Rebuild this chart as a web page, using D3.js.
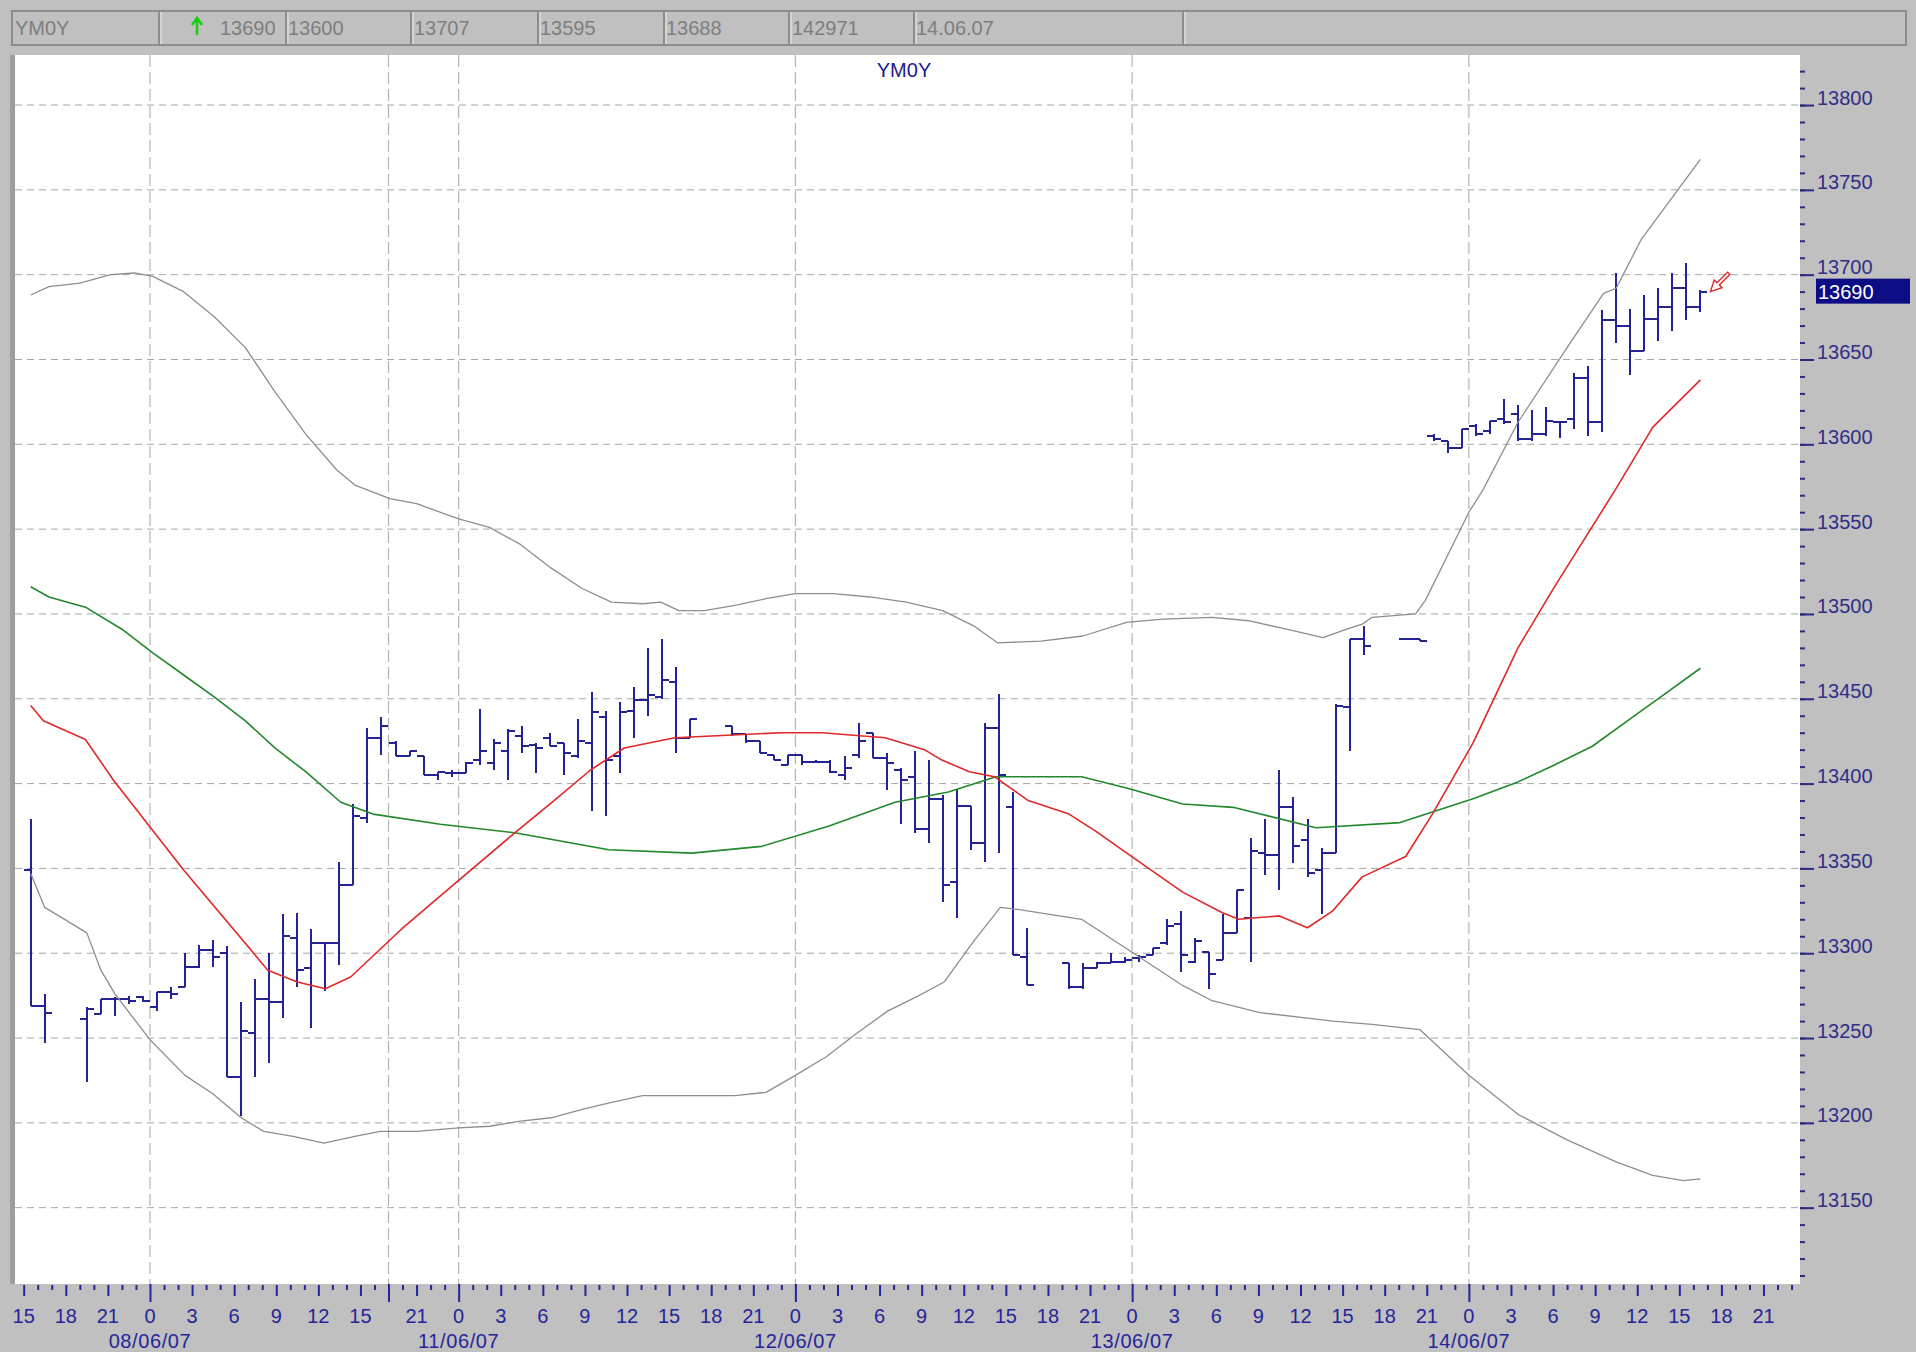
<!DOCTYPE html>
<html><head><meta charset="utf-8">
<script src="https://cdn.jsdelivr.net/npm/d3@7"></script>
<style>
html,body{margin:0;padding:0;background:#c0c0c0;}
svg{display:block;font-family:"Liberation Sans",Arial,sans-serif;}
</style></head><body>
<svg id="chart" width="1916" height="1352"></svg>
<script>
// ---------- DATA ----------
// slot = trading-hour index (0 = 07/06 15:00); bars sit in the middle of their hour slot
const barSlot = [0.5,1.5,
 4.5,5.5,6.5,7.5,8.5,9.5,10.5,11.5,12.5,13.5,14.5,15.5,16.5,17.5,18.5,19.5,20.5,21.5,22.5,23.5,24.5,25.5,
 26.5,27.5,28.5,29.5,30.5,31.5,32.5,33.5,34.5,35.5,36.5,37.5,38.5,39.5,40.5,41.5,42.5,43.5,44.5,45.5,46.5,47.5,
 50.5,51.5,52.5,53.5,54.5,55.5,56.5,57.5,58.5,59.5,60.5,61.5,62.5,63.5,64.5,65.5,66.5,67.5,68.5,69.5,70.5,71.5,
 74.5,75.5,76.5,77.5,78.5,79.5,80.5,81.5,82.5,83.5,84.5,85.5,86.5,87.5,88.5,89.5,90.5,91.5,92.5,93.5,94.5,95.5,
 98.5,99.5,100.5,101.5,102.5,103.5,104.5,105.5,106.5,107.5,108.5,109.5,110.5,111.5,112.5,113.5,114.5,115.5,116.5,117.5,118.5,119.5];
const barOpen = [13349,13269,
 13261,13264,13273,13273,13274,13268,13277,13280,13292,13302,13300,13227,13253,13273,13271,13309,13291,13306,13306,13340,13380,13427,
 13424,13416,13416,13405,13406,13406,13414,13412,13419,13428,13423,13427,13424,13416,13424,13439,13416,13443,13449,13451,13460,13427,
 13434,13429,13425,13417,13411,13417,13413,13413,13405,13417,13430,13415,13408,13404,13373,13391,13342,13387,13365,13433,13386,13298,
 13294,13280,13291,13294,13295,13297,13299,13306,13317,13295,13301,13296,13312,13321,13359,13358,13386,13367,13349,13359,13445,13485,
 13485,13485,13605,13602,13598,13611,13608,13615,13618,13603,13606,13613,13615,13639,13613,13673,13670,13655,13674,13681,13692,13681];
const barHigh = [13379,13276,
 13268,13273,13274,13275,13275,13277,13280,13300,13305,13308,13304,13271,13285,13300,13323,13324,13314,13306,13354,13388,13433,13439,
 13425,13419,13416,13407,13408,13413,13444,13426,13432,13434,13424,13430,13424,13438,13454,13443,13448,13457,13480,13485,13469,13438,
 13434,13429,13425,13417,13417,13417,13414,13414,13416,13436,13430,13418,13409,13419,13414,13393,13397,13387,13436,13453,13395,13315,
 13294,13294,13295,13300,13298,13299,13303,13320,13325,13309,13301,13323,13337,13368,13379,13408,13392,13379,13362,13447,13485,13493,
 13485,13485,13606,13602,13609,13612,13614,13627,13623,13620,13622,13614,13642,13646,13679,13701,13680,13688,13692,13701,13707,13691];
const barLow = [13269,13247,
 13224,13264,13263,13270,13271,13266,13273,13280,13291,13292,13227,13204,13227,13235,13262,13280,13256,13278,13293,13340,13377,13417,
 13416,13416,13405,13402,13404,13406,13411,13408,13402,13418,13406,13422,13405,13415,13384,13381,13406,13427,13440,13450,13418,13427,
 13428,13424,13418,13414,13411,13411,13412,13406,13402,13415,13415,13396,13376,13371,13365,13330,13321,13361,13354,13359,13299,13281,
 13279,13279,13291,13294,13294,13295,13299,13305,13289,13294,13279,13296,13312,13295,13346,13337,13353,13345,13323,13359,13419,13476,
 13485,13484,13602,13595,13598,13605,13606,13612,13602,13602,13605,13604,13609,13605,13607,13660,13641,13655,13661,13667,13673,13678];
const barClose = [13269,13265,
 13267,13273,13273,13272,13272,13277,13276,13292,13302,13298,13227,13254,13273,13271,13310,13290,13306,13306,13340,13381,13427,13434,
 13416,13419,13405,13407,13406,13412,13419,13424,13431,13422,13421,13422,13418,13425,13442,13414,13442,13449,13452,13461,13427,13438,
 13429,13425,13418,13414,13417,13413,13413,13407,13409,13425,13415,13412,13402,13373,13391,13340,13387,13365,13433,13405,13299,13281,
 13280,13291,13294,13295,13296,13298,13303,13316,13299,13307,13288,13312,13337,13360,13358,13386,13363,13347,13359,13446,13485,13481,
 13485,13484,13603,13598,13609,13606,13614,13613,13603,13606,13614,13613,13639,13613,13673,13670,13655,13674,13681,13692,13681,13690];

// Bollinger-type bands (grey) and moving averages (red, green), read at these slots
const upperSlot = [0.5,1.8,4.0,6.2,7.9,9.2,11.4,13.6,15.8,17.9,20.1,22.3,23.6,26.1,28.0,31.0,33.2,35.4,37.6,39.8,41.9,44.1,45.4,46.7,48.5,50.7,52.9,55.0,57.7,60.3,62.9,65.5,67.7,69.4,72.5,75.5,78.6,81.2,84.7,87.3,90.0,92.6,94.3,95.4,96.1,99.2,99.9,103.0,104.0,106.5,110.0,112.6,113.5,115.3,119.5];
const upperVal  = [13688,13693,13695,13700,13701,13699,13690,13675,13657,13631,13606,13585,13576,13568,13565,13556,13551,13541,13527,13515,13507,13506,13507,13502,13502,13505,13509,13512,13512,13510,13507,13502,13493,13483,13484,13487,13495,13497,13498,13496,13491,13486,13491,13494,13498,13500,13508,13560,13573,13613,13657,13689,13692,13721,13768];
const lowerSlot = [0.5,1.5,4.5,5.5,6.5,9.0,11.5,13.5,15.5,17.1,19.2,21.4,23.6,25.4,28.0,31.0,33.2,35.4,37.6,39.8,41.9,44.1,46.3,48.5,50.7,52.9,55.0,57.2,59.4,61.6,63.8,65.6,67.7,69.6,70.7,75.4,79.1,82.6,84.7,88.1,93.3,96.1,99.5,103.0,106.5,110.0,113.5,116.1,118.3,119.5];
const lowerVal  = [13347,13327,13312,13290,13276,13249,13228,13217,13203,13195,13192,13188,13192,13195,13195,13197,13198,13201,13203,13208,13212,13216,13216,13216,13216,13218,13228,13239,13253,13266,13275,13283,13307,13327,13326,13320,13300,13281,13272,13265,13260,13258,13255,13228,13205,13190,13177,13169,13166,13167];
const redSlot = [0.5,1.4,4.4,6.4,11.4,17.4,19.5,21.5,23.3,26.9,29.3,35.0,37.8,40.4,42.8,46.4,54.0,56.9,61.4,64.2,65.4,67.4,69.2,71.6,74.5,76.4,78.8,82.6,85.4,86.6,89.5,91.5,93.3,95.4,98.5,100.4,103.3,106.5,109.1,113.5,116.1,119.5];
const redVal  = [13446,13437,13426,13402,13349,13290,13283,13279,13286,13314,13331,13371,13390,13408,13421,13427,13430,13430,13427,13420,13414,13407,13404,13390,13382,13372,13358,13336,13324,13320,13322,13315,13325,13345,13357,13382,13424,13480,13516,13574,13610,13638];
const greenSlot = [0.5,1.8,4.4,7.0,9.2,11.4,13.6,15.8,17.9,20.1,22.6,24.9,29.7,35.0,41.7,47.6,52.6,57.4,62.1,65.9,69.3,75.4,78.8,82.6,86.2,92.1,98.1,103.3,106.5,109.1,111.8,114.3,117.0,119.5];
const greenVal  = [13516,13510,13504,13491,13477,13464,13451,13437,13421,13407,13389,13382,13376,13371,13361,13359,13363,13375,13389,13395,13404,13404,13397,13388,13386,13374,13377,13391,13401,13411,13422,13437,13453,13468];

// axis ticks / labels
const yTickValues = [13150,13200,13250,13300,13350,13400,13450,13500,13550,13600,13650,13700,13750,13800];
const xTickSlot  = [0,3,6,9,12,15,18,21,24,28,31,34,37,40,43,46,49,52,55,58,61,64,67,70,73,76,79,82,85,88,91,94,97,100,103,106,109,112,115,118,121,124];
const xTickLabel = ["15","18","21","0","3","6","9","12","15","21","0","3","6","9","12","15","18","21","0","3","6","9","12","15","18","21","0","3","6","9","12","15","18","21","0","3","6","9","12","15","18","21"];
const dayBreakSlot = [9,26,31,55,79,103];
const dateSlot  = [9,31,55,79,103];
const dateLabel = ["08/06/07","11/06/07","12/06/07","13/06/07","14/06/07"];
const lastPrice = 13690;
const title = "YM0Y";
const headerLabels = ["YM0Y","13690","13600","13707","13595","13688","142971","14.06.07"];

// ---------- LAYOUT ----------
const W = 1916, H = 1352;
const plot = {left: 15, right: 1800, top: 55, bottom: 1284};
const x = d3.scaleLinear().domain([-0.62, 126.6]).range([plot.left, plot.right]);
const y = d3.scaleLinear().domain([13105, 13829.5]).range([plot.bottom, plot.top]);
const navy = "#25259a";

const svg = d3.select("#chart");
svg.append("rect").attr("width", W).attr("height", H).attr("fill", "#c0c0c0");

// header bar
const hdr = svg.append("g");
hdr.append("rect").attr("x", 12).attr("y", 11).attr("width", 1894).attr("height", 34)
  .attr("fill", "#c0c0c0").attr("stroke", "#8c8c8c").attr("stroke-width", 2);
const headerDividerX = [159, 286, 411, 538, 664, 789, 914, 1183];
hdr.selectAll("line.div").data(headerDividerX).enter().append("line")
  .attr("x1", d => d).attr("x2", d => d).attr("y1", 12).attr("y2", 44)
  .attr("stroke", "#8c8c8c").attr("stroke-width", 2);
hdr.selectAll("line.divw").data(headerDividerX).enter().append("line")
  .attr("x1", d => d + 2).attr("x2", d => d + 2).attr("y1", 12).attr("y2", 44)
  .attr("stroke", "#e8e8e8").attr("stroke-width", 1);
const headerTextX = [15, 220, 288, 414, 540, 666, 792, 916];
hdr.selectAll("text").data(headerLabels).enter().append("text")
  .attr("x", (d, i) => headerTextX[i]).attr("y", 28).attr("dy", "0.35em")
  .attr("font-size", 20).attr("fill", "#7e7e7e").text(d => d);
// green up arrow
hdr.append("path").attr("d", "M197,35 V19 M192,25 L197,18 L202,25")
  .attr("stroke", "#10d010").attr("stroke-width", 2.5).attr("fill", "none");

// plot background
svg.append("rect").attr("x", 10).attr("y", plot.top).attr("width", 5).attr("height", plot.bottom - plot.top).attr("fill", "#9e9e9e");
svg.append("rect").attr("x", plot.left).attr("y", plot.top).attr("width", plot.right - plot.left)
  .attr("height", plot.bottom - plot.top).attr("fill", "#ffffff");

svg.append("clipPath").attr("id", "clip").append("rect")
  .attr("x", plot.left).attr("y", plot.top).attr("width", plot.right - plot.left).attr("height", plot.bottom - plot.top);
const g = svg.append("g").attr("clip-path", "url(#clip)");

// grid
g.selectAll("line.hg").data(yTickValues).enter().append("line")
  .attr("x1", plot.left).attr("x2", plot.right).attr("y1", d => y(d)).attr("y2", d => y(d))
  .attr("stroke", "#a6a6a6").attr("stroke-width", 1).attr("stroke-dasharray", "7,5");
g.selectAll("line.vg").data(dayBreakSlot).enter().append("line")
  .attr("x1", d => x(d)).attr("x2", d => x(d)).attr("y1", plot.top).attr("y2", plot.bottom)
  .attr("stroke", "#b4b4b4").attr("stroke-width", 1.2).attr("stroke-dasharray", "12,5");

// title
svg.append("text").attr("x", 904).attr("y", 70).attr("dy", "0.35em").attr("text-anchor", "middle")
  .attr("font-size", 20).attr("fill", "#1c1c90").text(title);

// bars (OHLC)
const tickLen = 7;
const barPath = barSlot.map((s, i) => {
  const cx = x(s);
  return `M${cx},${y(barHigh[i])}V${y(barLow[i])}` +
         `M${cx - tickLen},${y(barOpen[i])}H${cx}` +
         `M${cx},${y(barClose[i])}H${cx + tickLen}`;
}).join("");
g.append("path").attr("d", barPath).attr("stroke", "#232396").attr("stroke-width", 2)
  .attr("fill", "none").attr("shape-rendering", "crispEdges");

// lines
const line = d3.line().x(d => x(d[0])).y(d => y(d[1]));
function drawLine(sl, vals, color, w) {
  g.append("path").datum(sl.map((s, i) => [s, vals[i]])).attr("d", line)
    .attr("fill", "none").attr("stroke", color).attr("stroke-width", w).attr("stroke-linejoin", "round");
}
drawLine(upperSlot, upperVal, "#8e8e8e", 1.3);
drawLine(lowerSlot, lowerVal, "#8e8e8e", 1.3);
drawLine(greenSlot, greenVal, "#22882a", 1.6);
drawLine(redSlot, redVal, "#e02828", 1.6);

// last-price arrow (hollow, red)
{
  const tx = x(barSlot[barSlot.length - 1]) + 10, ty = y(lastPrice);
  const u = [Math.SQRT1_2, -Math.SQRT1_2], p = [Math.SQRT1_2, Math.SQRT1_2];
  const hl = 11, hw = 5.5, sl = 26, sw = 1.6;
  const b = [tx + u[0] * hl, ty + u[1] * hl];
  const pts = [
    [tx, ty],
    [b[0] + p[0] * hw, b[1] + p[1] * hw],
    [b[0] + p[0] * sw, b[1] + p[1] * sw],
    [tx + u[0] * sl + p[0] * sw, ty + u[1] * sl + p[1] * sw],
    [tx + u[0] * sl - p[0] * sw, ty + u[1] * sl - p[1] * sw],
    [b[0] - p[0] * sw, b[1] - p[1] * sw],
    [b[0] - p[0] * hw, b[1] - p[1] * hw]
  ];
  svg.append("path").attr("d", "M" + pts.map(q => q.join(",")).join("L") + "Z")
    .attr("fill", "#ffffff").attr("stroke", "#e02828").attr("stroke-width", 1.4);
}

// right y axis
const yMinor = d3.range(13110, 13830, 10);
const yAxisMinor = svg.append("g").attr("transform", `translate(${plot.right},0)`)
  .call(d3.axisRight(y).tickValues(yMinor).tickSize(5).tickFormat(""));
yAxisMinor.select(".domain").remove();
yAxisMinor.selectAll("line").attr("stroke", "#2a2a80").attr("stroke-width", 2);
const yAxis = svg.append("g").attr("transform", `translate(${plot.right},0)`)
  .call(d3.axisRight(y).tickValues(yTickValues).tickSize(14).tickFormat(d3.format("d")));
yAxis.select(".domain").remove();
yAxis.selectAll("line").attr("stroke", "#2a2a80").attr("stroke-width", 2);
yAxis.selectAll("text").attr("x", 17).attr("y", -8).attr("dy", "0.35em")
  .attr("font-size", 20).attr("fill", "#2e2e88").attr("font-family", "Liberation Sans, Arial, sans-serif");

// last price box
svg.append("rect").attr("x", 1816).attr("y", y(lastPrice) - 13).attr("width", 94).attr("height", 25).attr("fill", "#0c0c84");
svg.append("text").attr("x", 1818).attr("y", y(lastPrice)).attr("dy", "0.36em")
  .attr("font-size", 20).attr("fill", "#ffffff").text(d3.format("d")(lastPrice));

// bottom x axis
const allSlots = d3.range(0, 127);
const xAxis = svg.append("g").attr("transform", `translate(0,${plot.bottom})`)
  .call(d3.axisBottom(x).tickValues(allSlots).tickSize(5).tickFormat(""));
xAxis.select(".domain").remove();
xAxis.selectAll(".tick line")
  .attr("y1", d => dayBreakSlot.includes(d) ? 0 : 1)
  .attr("y2", d => dayBreakSlot.includes(d) ? 18 : (xTickSlot.includes(d) ? 12 : 6))
  .attr("stroke", navy).attr("stroke-width", 2);
svg.append("g").selectAll("text").data(xTickSlot).enter().append("text")
  .attr("x", d => x(d)).attr("y", 1316).attr("dy", "0.35em").attr("text-anchor", "middle")
  .attr("font-size", 20).attr("fill", navy).text((d, i) => xTickLabel[i]);
svg.append("g").selectAll("text").data(dateSlot).enter().append("text")
  .attr("x", d => x(d)).attr("y", 1341).attr("dy", "0.35em").attr("text-anchor", "middle")
  .attr("font-size", 20).attr("letter-spacing", 0.6).attr("fill", navy).text((d, i) => dateLabel[i]);
</script></body></html>
